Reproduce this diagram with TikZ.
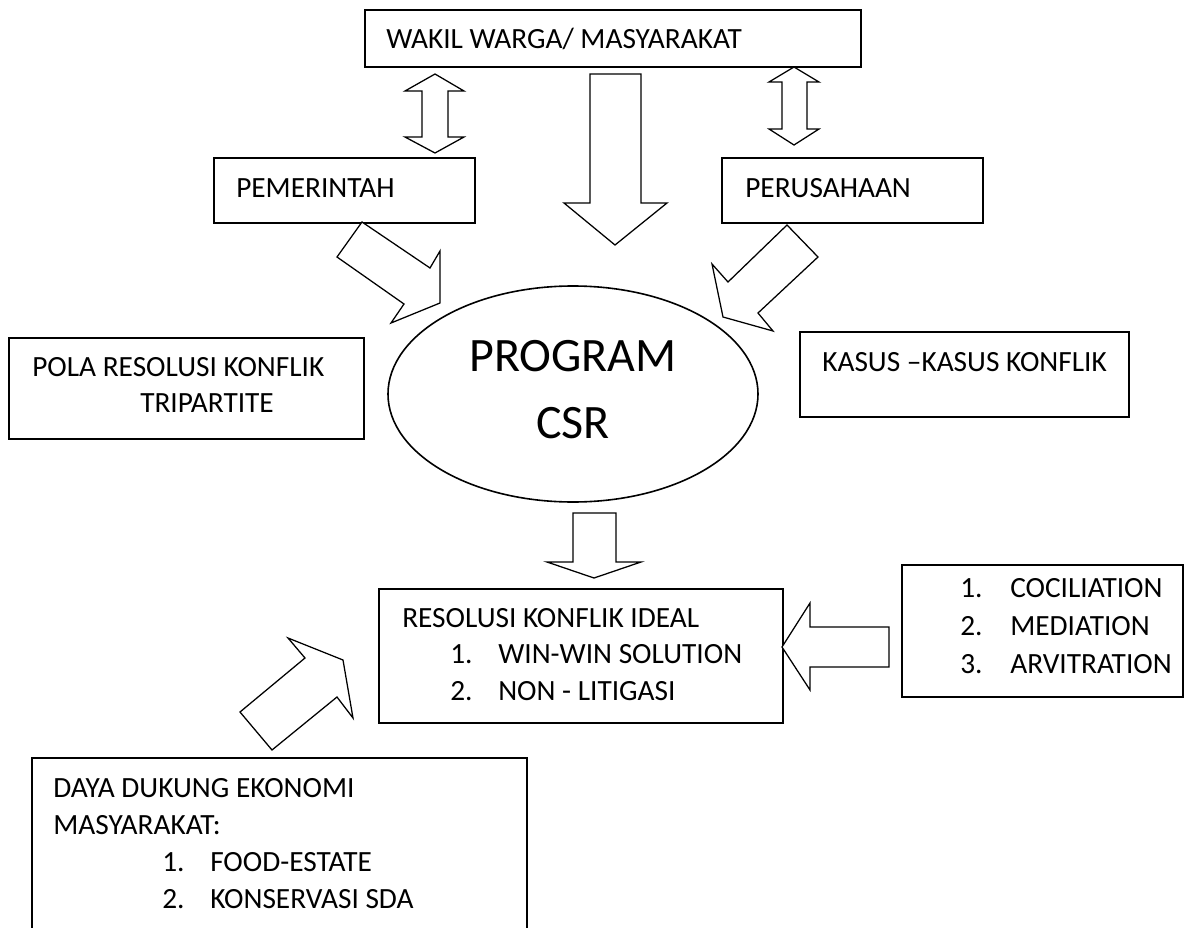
\documentclass[tikz,border=0pt]{standalone}
\usepackage{fontspec}
\setmainfont{Carlito}
\usetikzlibrary{shapes.geometric,fit}
\begin{document}
\begin{tikzpicture}[x=0.75pt,y=-0.75pt,
  box/.style={draw, line width=1.2pt, inner sep=0pt},
  blockarrow/.style={draw, line width=0.95pt, fill=white, line join=miter},
  txt/.style={anchor=base west, inner sep=0pt, font=\fontsize{22}{27}\selectfont},
  big/.style={anchor=base, inner sep=0pt, font=\fontsize{36}{36}\selectfont}]
\useasboundingbox (0,0) rectangle (1193,928);
\clip (0,0) rectangle (1193,928);
\fill[white] (0,0) rectangle (1193,928);

% boxes
\node[box, fit={(365,10) (861,67)}] (wakil) {};
\node[box, fit={(214,158) (475,223)}] (pem) {};
\node[box, fit={(722,158) (983,223)}] (per) {};
\node[box, fit={(9,338) (364,439)}] (pola) {};
\node[box, fit={(800,332) (1129,417)}] (kasus) {};
\node[box, fit={(379,589) (783,723)}] (reso) {};
\node[box, fit={(902,565) (1183,697)}] (cocil) {};
\node[box, fit={(32,758) (527,945)}] (daya) {};
\node[draw, ellipse, line width=1.2pt, inner sep=0pt,
      minimum width=277.5pt, minimum height=162pt] (csr) at (573,394) {};

% texts
\node[txt] (t1) at (386,48) {WAKIL WARGA/ MASYARAKAT};
\node[txt] (t2) at (236,197) {PEMERINTAH};
\node[txt] (t3) at (745,197) {PERUSAHAAN};
\node[txt] (t4) at (32,376) {POLA RESOLUSI KONFLIK};
\node[txt] (t5) at (140,412) {TRIPARTITE};
\node[txt] (t6) at (822,371) {KASUS –KASUS KONFLIK};
\node[big] (t7) at (573,371) {PROGRAM};
\node[big] (t8) at (573,438) {CSR};
\node[txt] (t9) at (402,627) {RESOLUSI KONFLIK IDEAL};
\node[txt] (t10) at (450,663) {1.};
\node[txt] (t11) at (498,663) {WIN-WIN SOLUTION};
\node[txt] (t12) at (450,700) {2.};
\node[txt] (t13) at (498,700) {NON - LITIGASI};
\node[txt] (t14) at (960,597) {1.};
\node[txt] (t15) at (1010,597) {COCILIATION};
\node[txt] (t16) at (960,635) {2.};
\node[txt] (t17) at (1010,635) {MEDIATION};
\node[txt] (t18) at (960,673) {3.};
\node[txt] (t19) at (1010,673) {ARVITRATION};
\node[txt] (t20) at (53,797) {DAYA DUKUNG EKONOMI};
\node[txt] (t21) at (53,834) {MASYARAKAT:};
\node[txt] (t22) at (162,871) {1.};
\node[txt] (t23) at (210,871) {FOOD-ESTATE};
\node[txt] (t24) at (162,908) {2.};
\node[txt] (t25) at (210,908) {KONSERVASI SDA};

% block arrows
% left double arrow (wakil <-> pemerintah)
\draw[blockarrow] (435,74) -- (464,91) -- (448,91) -- (448,137) -- (464,137)
  -- (435,153) -- (405,137) -- (422,137) -- (422,91) -- (405,91) -- cycle;
% right double arrow (wakil <-> perusahaan)
\draw[blockarrow] (794,67) -- (819,82) -- (807,82) -- (807,129) -- (819,129)
  -- (794,145) -- (769,129) -- (782,129) -- (782,82) -- (769,82) -- cycle;
% big central down arrow
\draw[blockarrow] (590,74) -- (641,74) -- (641,203) -- (667,203) -- (615,245)
  -- (564,203) -- (590,203) -- cycle;
% pemerintah -> csr
\draw[blockarrow] (362,222) -- (430,268) -- (440,251) -- (440,303) -- (391,323)
  -- (404,304) -- (337,257) -- cycle;
% perusahaan -> csr
\draw[blockarrow] (787,225) -- (818,257) -- (758,313) -- (773,331) -- (723,317)
  -- (712,264) -- (728,282) -- cycle;
% csr -> resolusi
\draw[blockarrow] (573,513) -- (616,513) -- (616,562) -- (641,562) -- (594,578)
  -- (547,562) -- (573,562) -- cycle;
% cociliation -> resolusi
\draw[blockarrow] (889,627) -- (889,667) -- (810,667) -- (810,690) -- (782,647)
  -- (810,603) -- (810,627) -- cycle;
% daya -> resolusi
\draw[blockarrow] (240,712) -- (272,750) -- (337,697) -- (353,718) -- (343,660)
  -- (288,638) -- (305,658) -- cycle;
\end{tikzpicture}
\end{document}
